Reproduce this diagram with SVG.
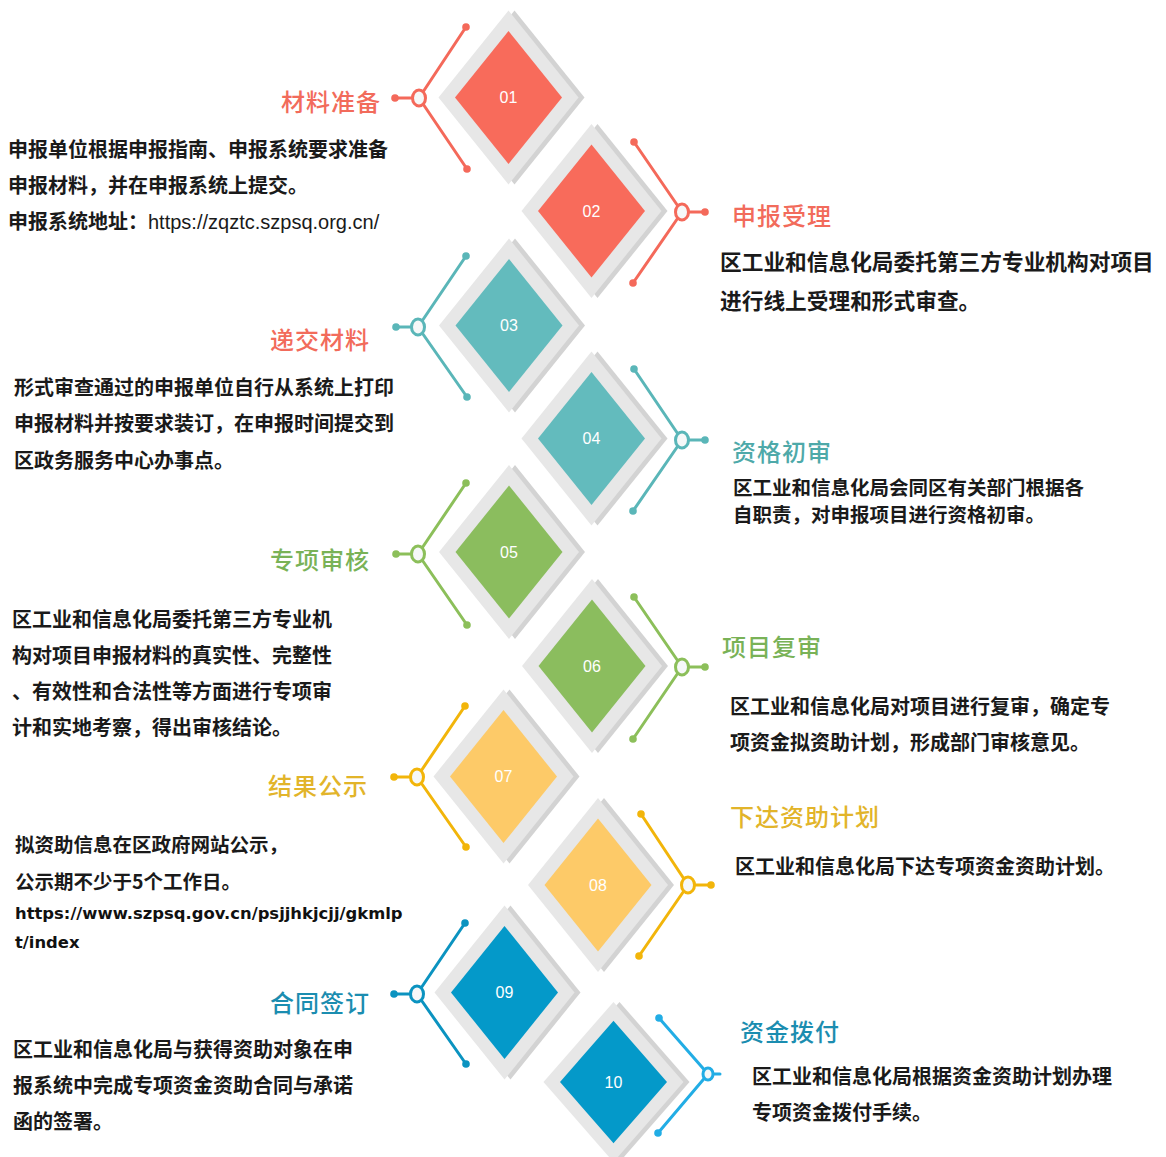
<svg xmlns="http://www.w3.org/2000/svg" xmlns:xlink="http://www.w3.org/1999/xlink" width="1166" height="1157" viewBox="0 0 1166 1157">
<defs>
<polygon id="outer" points="0,-87 70,0 0,87 -70,0"/>
<polygon id="inner" points="0,-66.5 53.5,0 0,66.5 -53.5,0"/>
<style>
.sh{fill:#d3d3d3}
.lt{fill:#e7e7e7}
.num{font-family:"Liberation Sans",Arial,sans-serif;font-size:16px;fill:#ffffff;text-anchor:middle;dominant-baseline:central}
.title{font-family:"Noto Sans CJK SC","Noto Sans",sans-serif;font-size:24px;font-weight:500;letter-spacing:1px}
.body{font-family:"Noto Sans CJK SC","Noto Sans",sans-serif;font-size:20px;font-weight:700;fill:#1a1a1a}
.url{font-family:"Liberation Sans",Arial,sans-serif;font-weight:400}
.burl{font-family:"DejaVu Sans",sans-serif;font-size:16.4px;font-weight:700;fill:#111}
.end{text-anchor:end}
.br{fill:none;stroke-width:3;stroke-linecap:round;stroke-linejoin:round}
.vx{fill:#f6f8f8;stroke-width:3}
.c-red{fill:#f86b5b}.s-red{stroke:#f4695a}.d-red{fill:#f4695a}.t-red{fill:#f26b5b}
.c-teal{fill:#63bbbd}.s-teal{stroke:#5ab6b8}.d-teal{fill:#5ab6b8}.t-teal{fill:#4ea9a9}
.c-green{fill:#8bbd5e}.s-green{stroke:#8cbf5a}.d-green{fill:#8cbf5a}.t-green{fill:#79b257}
.c-yel{fill:#fdca68}.s-yel{stroke:#f2b50a}.d-yel{fill:#f2b50a}.t-yel{fill:#e2b42a}
.c-blue{fill:#0499c9}.s-blue{stroke:#0b93c0}.d-blue{fill:#0b93c0}.t-blue{fill:#1b8db0}
.s-lblue{stroke:#22ade5}.d-lblue{fill:#22ade5}
</style>
</defs>
<rect width="1166" height="1157" fill="#ffffff"/>

<g id="connectors">
  <g id="conn-01">
    <polyline class="br s-red" points="466,27 419,98 467,169"/>
    <line class="br s-red" x1="419" y1="98" x2="395" y2="98"/>
    <circle class="d-red" cx="466" cy="27" r="3.8"/><circle class="d-red" cx="467" cy="169" r="3.8"/><circle class="d-red" cx="395" cy="98" r="3.8"/>
    <ellipse class="vx s-red" cx="419" cy="98" rx="6.5" ry="8"/>
  </g>
  <g id="conn-02">
    <polyline class="br s-red" points="634,142 682,212 633,283"/>
    <line class="br s-red" x1="682" y1="212" x2="705" y2="212"/>
    <circle class="d-red" cx="634" cy="142" r="3.8"/><circle class="d-red" cx="633" cy="283" r="3.8"/><circle class="d-red" cx="705" cy="212" r="3.8"/>
    <ellipse class="vx s-red" cx="682" cy="212" rx="6.5" ry="8"/>
  </g>
  <g id="conn-03">
    <polyline class="br s-teal" points="466,256 418,327 467,397"/>
    <line class="br s-teal" x1="418" y1="327" x2="396" y2="327"/>
    <circle class="d-teal" cx="466" cy="256" r="3.8"/><circle class="d-teal" cx="467" cy="397" r="3.8"/><circle class="d-teal" cx="396" cy="327" r="3.8"/>
    <ellipse class="vx s-teal" cx="418" cy="327" rx="6.5" ry="8"/>
  </g>
  <g id="conn-04">
    <polyline class="br s-teal" points="634,369 682,440 633,511"/>
    <line class="br s-teal" x1="682" y1="440" x2="705" y2="440"/>
    <circle class="d-teal" cx="634" cy="369" r="3.8"/><circle class="d-teal" cx="633" cy="511" r="3.8"/><circle class="d-teal" cx="705" cy="440" r="3.8"/>
    <ellipse class="vx s-teal" cx="682" cy="440" rx="6.5" ry="8"/>
  </g>
  <g id="conn-05">
    <polyline class="br s-green" points="466,483 418,554 467,625"/>
    <line class="br s-green" x1="418" y1="554" x2="396" y2="554"/>
    <circle class="d-green" cx="466" cy="483" r="3.8"/><circle class="d-green" cx="467" cy="625" r="3.8"/><circle class="d-green" cx="396" cy="554" r="3.8"/>
    <ellipse class="vx s-green" cx="418" cy="554" rx="6.5" ry="8"/>
  </g>
  <g id="conn-06">
    <polyline class="br s-green" points="634,597 682,667 633,739"/>
    <line class="br s-green" x1="682" y1="667" x2="705" y2="667"/>
    <circle class="d-green" cx="634" cy="597" r="3.8"/><circle class="d-green" cx="633" cy="739" r="3.8"/><circle class="d-green" cx="705" cy="667" r="3.8"/>
    <ellipse class="vx s-green" cx="682" cy="667" rx="6.5" ry="8"/>
  </g>
  <g id="conn-07">
    <polyline class="br s-yel" points="465,706 417,777 466,847"/>
    <line class="br s-yel" x1="417" y1="777" x2="394" y2="777"/>
    <circle class="d-yel" cx="465" cy="706" r="3.8"/><circle class="d-yel" cx="466" cy="847" r="3.8"/><circle class="d-yel" cx="394" cy="777" r="3.8"/>
    <ellipse class="vx s-yel" cx="417" cy="777" rx="6.5" ry="8"/>
  </g>
  <g id="conn-08">
    <polyline class="br s-yel" points="641,814 688,885 639,956"/>
    <line class="br s-yel" x1="688" y1="885" x2="711" y2="885"/>
    <circle class="d-yel" cx="641" cy="814" r="3.8"/><circle class="d-yel" cx="639" cy="956" r="3.8"/><circle class="d-yel" cx="711" cy="885" r="3.8"/>
    <ellipse class="vx s-yel" cx="688" cy="885" rx="6.5" ry="8"/>
  </g>
  <g id="conn-09">
    <polyline class="br s-blue" points="465,923 417,994 466,1064"/>
    <line class="br s-blue" x1="417" y1="994" x2="394" y2="994"/>
    <circle class="d-blue" cx="465" cy="923" r="3.8"/><circle class="d-blue" cx="466" cy="1064" r="3.8"/><circle class="d-blue" cx="394" cy="994" r="3.8"/>
    <ellipse class="vx s-blue" cx="417" cy="994" rx="6.5" ry="8"/>
  </g>
  <g id="conn-10">
    <polyline class="br s-lblue" points="659,1018 708,1074 658,1133"/>
    <line class="br s-lblue" x1="708" y1="1074" x2="720" y2="1074"/>
    <circle class="d-lblue" cx="659" cy="1018" r="3.8"/><circle class="d-lblue" cx="658" cy="1133" r="3.8"/>
    <ellipse class="vx s-lblue" cx="708" cy="1074" rx="5" ry="6"/>
  </g>
</g>

<g id="node-01">
  <g transform="translate(508.5,97.5)"><use xlink:href="#outer" class="sh" x="6"/><use xlink:href="#outer" class="lt"/><use xlink:href="#inner" class="c-red"/><text class="num" x="0" y="0">01</text></g>
  <text class="title t-red end" x="381" y="111">材料准备</text>
  <text class="body" x="8" y="157">申报单位根据申报指南、申报系统要求准备</text>
  <text class="body" x="8" y="193">申报材料，并在申报系统上提交。</text>
  <text class="body" x="8" y="229">申报系统地址：<tspan class="url">https://zqztc.szpsq.org.cn/</tspan></text>
</g>

<g id="node-02">
  <g transform="translate(591.5,211)"><use xlink:href="#outer" class="sh" x="6"/><use xlink:href="#outer" class="lt"/><use xlink:href="#inner" class="c-red"/><text class="num" x="0" y="0">02</text></g>
  <text class="title t-red" x="732" y="225">申报受理</text>
  <text class="body" x="720" y="270" style="font-size:21.7px">区工业和信息化局委托第三方专业机构对项目</text>
  <text class="body" x="720" y="309" style="font-size:21.7px">进行线上受理和形式审查。</text>
</g>

<g id="node-03">
  <g transform="translate(509,325.5)"><use xlink:href="#outer" class="sh" x="6"/><use xlink:href="#outer" class="lt"/><use xlink:href="#inner" class="c-teal"/><text class="num" x="0" y="0">03</text></g>
  <text class="title t-red end" x="370" y="349">递交材料</text>
  <text class="body" x="14" y="395">形式审查通过的申报单位自行从系统上打印</text>
  <text class="body" x="14" y="431">申报材料并按要求装订，在申报时间提交到</text>
  <text class="body" x="14" y="468">区政务服务中心办事点。</text>
</g>

<g id="node-04">
  <g transform="translate(591.5,438.5)"><use xlink:href="#outer" class="sh" x="6"/><use xlink:href="#outer" class="lt"/><use xlink:href="#inner" class="c-teal"/><text class="num" x="0" y="0">04</text></g>
  <text class="title t-teal" x="732" y="461">资格初审</text>
  <text class="body" x="733" y="495" style="font-size:19.5px">区工业和信息化局会同区有关部门根据各</text>
  <text class="body" x="733" y="522" style="font-size:19.5px">自职责，对申报项目进行资格初审。</text>
</g>

<g id="node-05">
  <g transform="translate(509,552)"><use xlink:href="#outer" class="sh" x="6"/><use xlink:href="#outer" class="lt"/><use xlink:href="#inner" class="c-green"/><text class="num" x="0" y="0">05</text></g>
  <text class="title t-green end" x="370" y="569">专项审核</text>
  <text class="body" x="12" y="627">区工业和信息化局委托第三方专业机</text>
  <text class="body" x="12" y="663">构对项目申报材料的真实性、完整性</text>
  <text class="body" x="12" y="699">、有效性和合法性等方面进行专项审</text>
  <text class="body" x="12" y="735">计和实地考察，得出审核结论。</text>
</g>

<g id="node-06">
  <g transform="translate(592,666)"><use xlink:href="#outer" class="sh" x="6"/><use xlink:href="#outer" class="lt"/><use xlink:href="#inner" class="c-green"/><text class="num" x="0" y="0">06</text></g>
  <text class="title t-green" x="722" y="656">项目复审</text>
  <text class="body" x="730" y="714">区工业和信息化局对项目进行复审，确定专</text>
  <text class="body" x="730" y="750">项资金拟资助计划，形成部门审核意见。</text>
</g>

<g id="node-07">
  <g transform="translate(503.5,776.5)"><use xlink:href="#outer" class="sh" x="6"/><use xlink:href="#outer" class="lt"/><use xlink:href="#inner" class="c-yel"/><text class="num" x="0" y="0">07</text></g>
  <text class="title t-yel end" x="368" y="795">结果公示</text>
  <text class="body" x="15" y="852" style="font-size:19.5px">拟资助信息在区政府网站公示，</text>
  <text class="body" x="15" y="889" style="font-size:19.5px">公示期不少于5个工作日。</text>
  <text class="burl" x="15" y="919">https://www.szpsq.gov.cn/psjjhkjcjj/gkmlp</text>
  <text class="burl" x="15" y="948">t/index</text>
</g>

<g id="node-08">
  <g transform="translate(598,885)"><use xlink:href="#outer" class="sh" x="6"/><use xlink:href="#outer" class="lt"/><use xlink:href="#inner" class="c-yel"/><text class="num" x="0" y="0">08</text></g>
  <text class="title t-yel" x="730" y="826">下达资助计划</text>
  <text class="body" x="735" y="874">区工业和信息化局下达专项资金资助计划。</text>
</g>

<g id="node-09">
  <g transform="translate(504.5,992.5)"><use xlink:href="#outer" class="sh" x="6"/><use xlink:href="#outer" class="lt"/><use xlink:href="#inner" class="c-blue"/><text class="num" x="0" y="0">09</text></g>
  <text class="title t-blue end" x="370" y="1012">合同签订</text>
  <text class="body" x="13" y="1057">区工业和信息化局与获得资助对象在申</text>
  <text class="body" x="13" y="1093">报系统中完成专项资金资助合同与承诺</text>
  <text class="body" x="13" y="1129">函的签署。</text>
</g>

<g id="node-10">
  <g transform="translate(613.5,1082) scale(1,0.92)"><use xlink:href="#outer" class="sh" x="6"/><use xlink:href="#outer" class="lt"/><use xlink:href="#inner" class="c-blue"/></g>
  <text class="num" x="613.5" y="1082">10</text>
  <text class="title t-blue" x="740" y="1041">资金拨付</text>
  <text class="body" x="752" y="1084">区工业和信息化局根据资金资助计划办理</text>
  <text class="body" x="752" y="1120">专项资金拨付手续。</text>
</g>
</svg>
